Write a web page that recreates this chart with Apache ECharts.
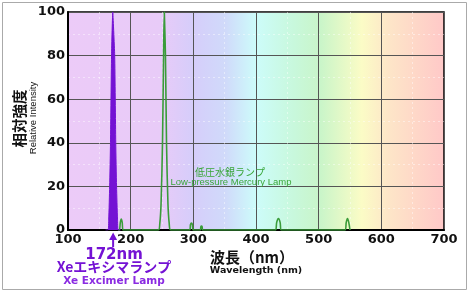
<!DOCTYPE html>
<html>
<head>
<meta charset="utf-8">
<script src="https://cdn.jsdelivr.net/npm/echarts@6/dist/echarts.min.js"></script>
<style>
  html, body { margin: 0; padding: 0; background: #fff; }
  #chart { width: 470px; height: 293px; }
</style>
</head>
<body>
<div id="chart"></div>
<script>
// Xe excimer lamp, 172 nm
const xeWavelength = [160, 164, 165, 166.5, 167.8, 169.5, 171.5, 172, 172.5, 174.5, 176.2, 177.5, 179, 180, 184];
const xeIntensity  = [0,   0,   5,   20,    40,    80,    100,   100, 100,   80,    40,    20,    5,   0,   0];

// low-pressure mercury lamp
const hgWavelength = [180, 182, 183.5, 185, 186.5, 188, 244, 246.5, 248.5, 250.8, 252.5, 253.7, 254.3, 255.5, 257.2, 259.5, 261.5, 264,
                      294, 295.5, 297, 298.5, 300, 311, 312, 313, 314, 315,
                      431, 433, 435.8, 438.5, 440.5, 542, 544, 546, 548, 550];
const hgIntensity  = [0,   0,   3.5,   5,   3.5,   0,   0,   3,     12,    40,    80,    100,   100,   80,    40,    12,    3,     0,
                      0,   2.5,   3.2, 2.5,   0,   0,   1.5, 1.8, 1.5, 0,
                      0,   3.5, 5.2,   3.5,   0,   0,   3.5, 5.2, 3.5, 0];

const xTicks = { min: 100, max: 700, interval: 100 };
const yTicks = { min: 0, max: 100, interval: 20 };

const purple = '#7412d4';
const green = '#3a9c3a';

const chart = echarts.init(document.getElementById('chart'));

const bg = new echarts.graphic.LinearGradient(0, 0, 1, 0, [
  { offset: 0, color: '#eccbf8' },
  { offset: 0.25, color: '#e8cbf8' },
  { offset: 0.33, color: '#d6cdfa' },
  { offset: 0.42, color: '#d0dafa' },
  { offset: 0.5, color: '#cdfcfa' },
  { offset: 0.6, color: '#c8f8dc' },
  { offset: 0.67, color: '#c9f5c9' },
  { offset: 0.78, color: '#fbfcc6' },
  { offset: 0.85, color: '#fde6c8' },
  { offset: 1, color: '#ffc8c8' }
]);

const tickFont = { fontFamily: 'DejaVu Sans', fontWeight: 'bold', fontSize: 13, color: '#111' };

chart.setOption({
  animation: false,
  backgroundColor: '#fff',
  grid: {
    left: 68, right: 26, top: 12, bottom: 63,
    show: true,
    backgroundColor: bg,
    borderColor: '#000',
    borderWidth: 1.5
  },
  xAxis: {
    type: 'value',
    min: xTicks.min, max: xTicks.max, interval: xTicks.interval,
    axisLine: { show: true, lineStyle: { color: '#000', width: 2 } },
    axisTick: { show: false },
    axisLabel: Object.assign({ margin: 3 }, tickFont),
    splitLine: { show: true, lineStyle: { color: '#555', width: 1 } },
    minorTick: { show: false, splitNumber: 2 },
    minorSplitLine: { show: true, lineStyle: { color: 'rgba(255,255,255,0.45)', type: [2, 3], width: 1 } }
  },
  yAxis: {
    type: 'value',
    min: yTicks.min, max: yTicks.max, interval: yTicks.interval,
    axisLine: { show: true, lineStyle: { color: '#000', width: 2 } },
    axisTick: { show: false },
    axisLabel: Object.assign({ margin: 3 }, tickFont),
    splitLine: { show: true, lineStyle: { color: '#555', width: 1 } },
    minorTick: { show: false, splitNumber: 2 },
    minorSplitLine: { show: true, lineStyle: { color: 'rgba(255,255,255,0.45)', type: [2, 3], width: 1 } }
  },
  series: [
    {
      name: 'Low-pressure Mercury Lamp',
      type: 'line',
      data: hgWavelength.map((w, i) => [w, hgIntensity[i]]),
      symbol: 'none',
      smooth: 0.3,
      lineStyle: { color: green, width: 1.6 },
      z: 3
    },
    {
      name: 'Xe Excimer Lamp',
      type: 'line',
      data: xeWavelength.map((w, i) => [w, xeIntensity[i]]),
      symbol: 'none',
      smooth: 0.2,
      lineStyle: { color: purple, width: 1 },
      areaStyle: { color: purple, opacity: 1 },
      z: 4
    }
  ]
});

// annotation layer, arrow is placed at 172 nm through the axis scale
const arrowBase = chart.convertToPixel({ gridIndex: 0 }, [172, 0]);
const ax = arrowBase[0];
const ay = arrowBase[1];

const jp = '"Noto Sans CJK JP", "DejaVu Sans", sans-serif';

chart.setOption({
  graphic: [
    {
      type: 'rect', silent: true, z: -1,
      shape: { x: 2.5, y: 2.5, width: 464, height: 287 },
      style: { fill: 'none', stroke: '#aaa', lineWidth: 1 }
    },
    {
      type: 'polygon', z: 10,
      shape: { points: [[ax, ay + 2.5], [ax - 4, ay + 10], [ax + 4, ay + 10]] },
      style: { fill: purple }
    },
    {
      type: 'line', z: 10,
      shape: { x1: ax, y1: ay + 9, x2: ax, y2: ay + 17 },
      style: { stroke: purple, lineWidth: 2 }
    },
    {
      type: 'text', x: 114, y: 255,
      style: { text: '172nm', fill: purple, font: 'bold 15px "DejaVu Sans"', align: 'center', verticalAlign: 'middle' }
    },
    {
      type: 'text', x: 114, y: 267,
      style: { text: 'Xeエキシマランプ', fill: purple, font: 'bold 14px ' + jp, align: 'center', verticalAlign: 'middle' }
    },
    {
      type: 'text', x: 114, y: 281,
      style: { text: 'Xe Excimer Lamp', fill: '#8a2be2', font: 'bold 10.5px "DejaVu Sans"', align: 'center', verticalAlign: 'middle' }
    },
    {
      type: 'text', x: 252, y: 257,
      style: { text: '波長（nm）', fill: '#111', font: 'bold 15px ' + jp, align: 'center', verticalAlign: 'middle' }
    },
    {
      type: 'text', x: 256, y: 271,
      style: { text: 'Wavelength (nm)', fill: '#111', font: 'bold 9.5px "DejaVu Sans"', align: 'center', verticalAlign: 'middle' }
    },
    {
      type: 'text', x: 230, y: 172,
      style: { text: '低圧水銀ランプ', fill: '#3aa63a', font: '10px ' + jp, align: 'center', verticalAlign: 'middle' }
    },
    {
      type: 'text', x: 231, y: 182,
      style: { text: 'Low-pressure Mercury Lamp', fill: '#3aa63a', font: '9.5px "Liberation Sans"', align: 'center', verticalAlign: 'middle' }
    },
    {
      type: 'text', x: 19.5, y: 118.5, rotation: Math.PI / 2,
      style: { text: '相対強度', fill: '#111', font: 'bold 14.5px ' + jp, align: 'center', verticalAlign: 'middle' }
    },
    {
      type: 'text', x: 33, y: 118, rotation: Math.PI / 2,
      style: { text: 'Relative Intensity', fill: '#111', font: '9.5px "Liberation Sans"', align: 'center', verticalAlign: 'middle' }
    }
  ]
});
</script>
</body>
</html>
